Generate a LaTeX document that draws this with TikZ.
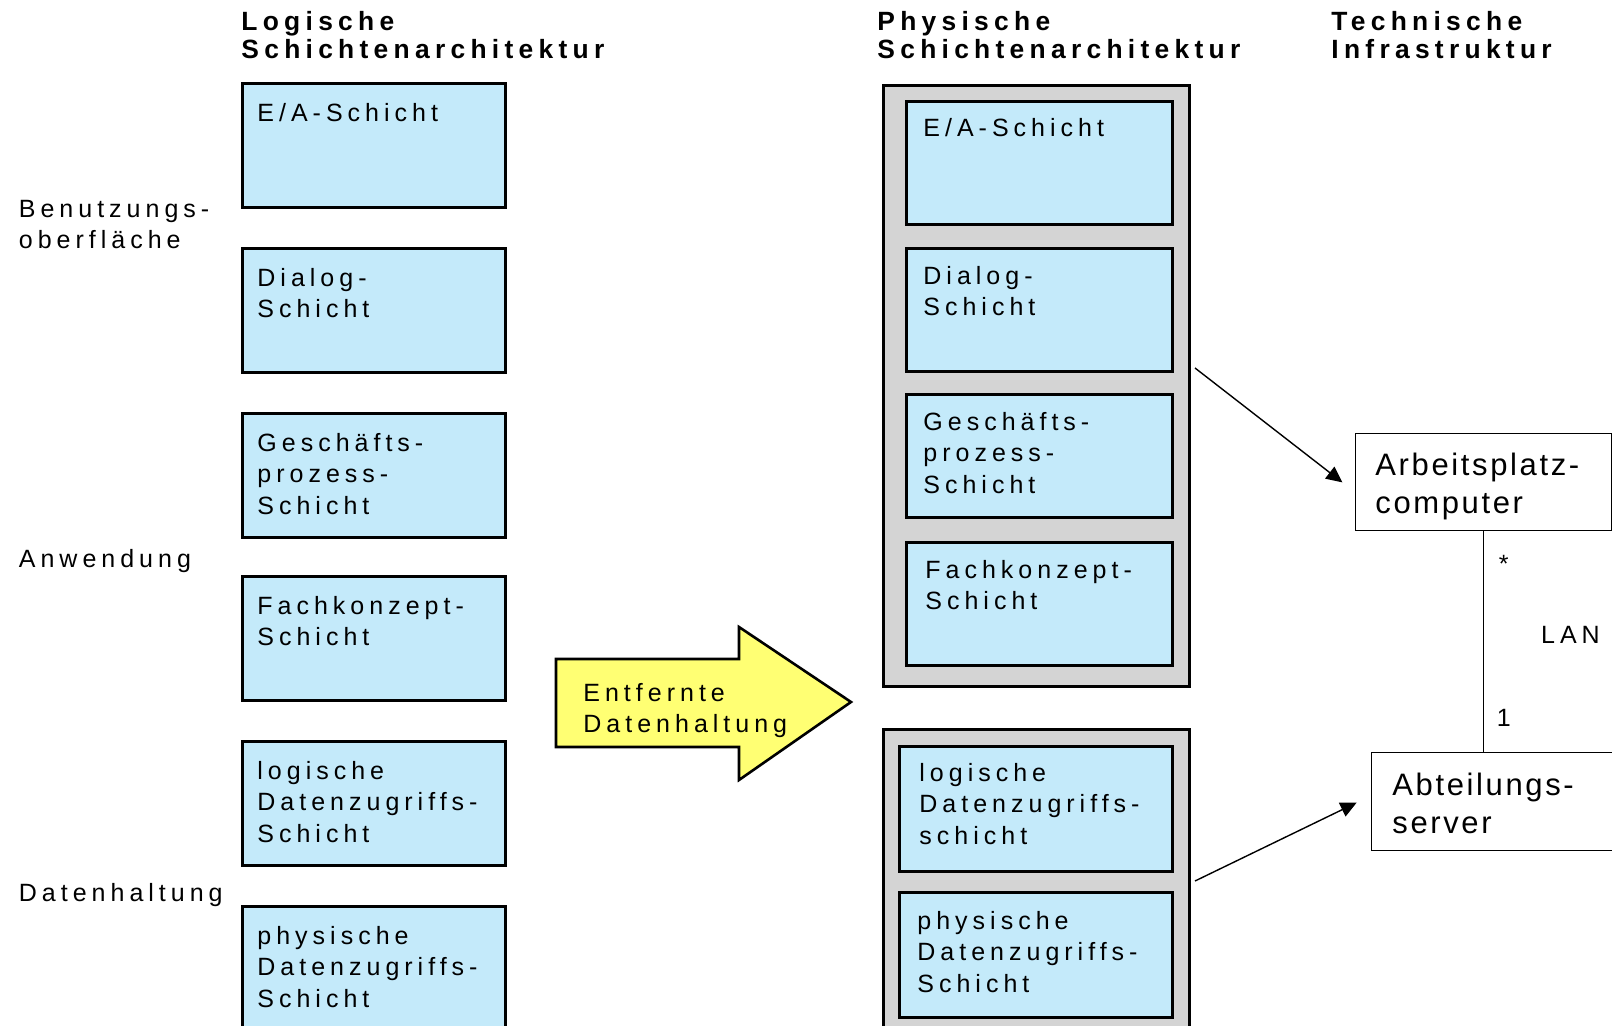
\documentclass[tikz,border=0pt]{standalone}
\usepackage{fontspec}
\setmainfont{Liberation Sans}
\newfontfamily\spacedfont[LetterSpace=20]{Liberation Sans}
\newfontfamily\hostfont[LetterSpace=8.5]{Liberation Sans}
\usetikzlibrary{arrows.meta}
\definecolor{layerblue}{RGB}{196,234,250}
\definecolor{tiergray}{RGB}{212,212,212}
\definecolor{moveyellow}{RGB}{255,255,115}
\begin{document}
\begin{tikzpicture}[x=0.5pt,y=-0.5pt,
		lbox/.style={draw,line width=1.3pt,fill=layerblue,anchor=north west,inner sep=0pt,minimum width=131.5pt,minimum height=62pt},
		rbox/.style={lbox,minimum width=133pt,minimum height=61.5pt},
		dbox/.style={lbox,minimum width=136.5pt,minimum height=62.5pt},
		tier/.style={draw,line width=1.3pt,fill=tiergray,anchor=north west,inner sep=0pt,minimum width=153pt},
		host/.style={draw,line width=0.7pt,anchor=north west,inner sep=0pt},
		txt/.style={anchor=north west,inner sep=0pt,align=left,font=\spacedfont\fontsize{12.5}{15.7}\selectfont},
		head/.style={txt,font=\spacedfont\bfseries\fontsize{13.2}{14.2}\selectfont},
		hosttxt/.style={anchor=north west,inner sep=0pt,align=left,font=\hostfont\fontsize{15.5}{19}\selectfont},
		link/.style={line width=0.7pt,-{Triangle[length=8pt,width=7.5pt]},shorten >=8pt}]
	\useasboundingbox (0,0) rectangle (1612,1026);
	\clip (0,0) rectangle (1612,1026);
	%	\draw [color=gray!50,opacity=0.5] [step=100] (0,0) grid (1612,1026);
	% headings
	\node[head] (tlog) at (241,11) {Logische\\Schichtenarchitektur};
	\node[head] (tphys) at (877,11) {Physische\\Schichtenarchitektur};
	\node[head] (ttech) at (1331,11) {Technische\\Infrastruktur};
	% left labels
	\node[txt] (lbo) at (18.5,200) {Benutzungs-\\oberfläche};
	\node[txt] (lanw) at (18.5,549) {Anwendung};
	\node[txt] (ldh) at (18.5,883) {Datenhaltung};
	% LOGICAL layers
	\node[lbox] (lea) at (241,82) {};
	\node[txt] at ([shift={(16,21)}]lea.north west) {E/A-Schicht};
	\node[lbox] (ldlg) at (241,247) {};
	\node[txt] at ([shift={(16,21)}]ldlg.north west) {Dialog-\\Schicht};
	\node[lbox] (lgp) at (241,412) {};
	\node[txt] at ([shift={(16,21)}]lgp.north west) {Geschäfts-\\prozess-\\Schicht};
	\node[lbox] (lfk) at (241,575) {};
	\node[txt] at ([shift={(16,21)}]lfk.north west) {Fachkonzept-\\Schicht};
	\node[lbox] (lldz) at (241,740) {};
	\node[txt] at ([shift={(16,21)}]lldz.north west) {logische\\Datenzugriffs-\\Schicht};
	\node[lbox] (lpdz) at (241,905) {};
	\node[txt] at ([shift={(16,21)}]lpdz.north west) {physische\\Datenzugriffs-\\Schicht};
	% big arrow
	\draw[line width=1.3pt,fill=moveyellow,line join=miter] (556,659) -- (739,659) -- (739,627) -- (851,702) -- (739,780) -- (739,747) -- (556,747) -- cycle;
	\node[txt] (remote) at (583,683) {Entfernte\\Datenhaltung};
	% PHYSICAL tiers
	\node[tier,minimum height=300.5pt] (tclient) at (882,84) {};
	\node[rbox] (pea) at (905,100) {};
	\node[txt] at ([shift={(18,18)}]pea.north west) {E/A-Schicht};
	\node[rbox] (pdlg) at (905,247) {};
	\node[txt] at ([shift={(18,19)}]pdlg.north west) {Dialog-\\Schicht};
	\node[rbox] (pgp) at (905,393) {};
	\node[txt] at ([shift={(18,19)}]pgp.north west) {Geschäfts-\\prozess-\\Schicht};
	\node[rbox] (pfk) at (905,541) {};
	\node[txt] at ([shift={(20,19)}]pfk.north west) {Fachkonzept-\\Schicht};
	\node[tier,minimum height=156pt] (tserver) at (882,728) {};
	\node[dbox] (pldz) at (898,745) {};
	\node[txt] at ([shift={(21,18)}]pldz.north west) {logische\\Datenzugriffs-\\schicht};
	\node[dbox] (ppdz) at (898,891) {};
	\node[txt] at ([shift={(19,20)}]ppdz.north west) {physische\\Datenzugriffs-\\Schicht};
	% INFRASTRUCTURE
	\node[host,minimum width=128pt,minimum height=48.5pt] (pc) at (1355,433) {};
	\node[hosttxt] at ([shift={(20,20)}]pc.north west) {Arbeitsplatz-\\computer};
	\node[host,minimum width=130pt,minimum height=49pt] (srv) at (1371,752) {};
	\node[hosttxt] at ([shift={(21,21)}]srv.north west) {Abteilungs-\\server};
	\draw[line width=0.7pt] (pc.south) -- (pc.south |- srv.north);
	\node[txt,anchor=north] (mstar) at ([shift={(20,23)}]pc.south) {*};
	\node[txt,anchor=west] (mlan) at ([shift={(57,103)}]pc.south) {LAN};
	\node[txt,anchor=center] (mone) at ([shift={(20,-34)}]pc.south |- srv.north) {1};
	% mapping arrows
	\coordinate (c1) at (1195,368);
	\coordinate (c2) at (1195,881);
	\draw[link] (c1) -- ([yshift=-5pt]pc.west);
	\draw[link] (c2) -- ([yshift=3pt]srv.west);
\end{tikzpicture}
\end{document}
